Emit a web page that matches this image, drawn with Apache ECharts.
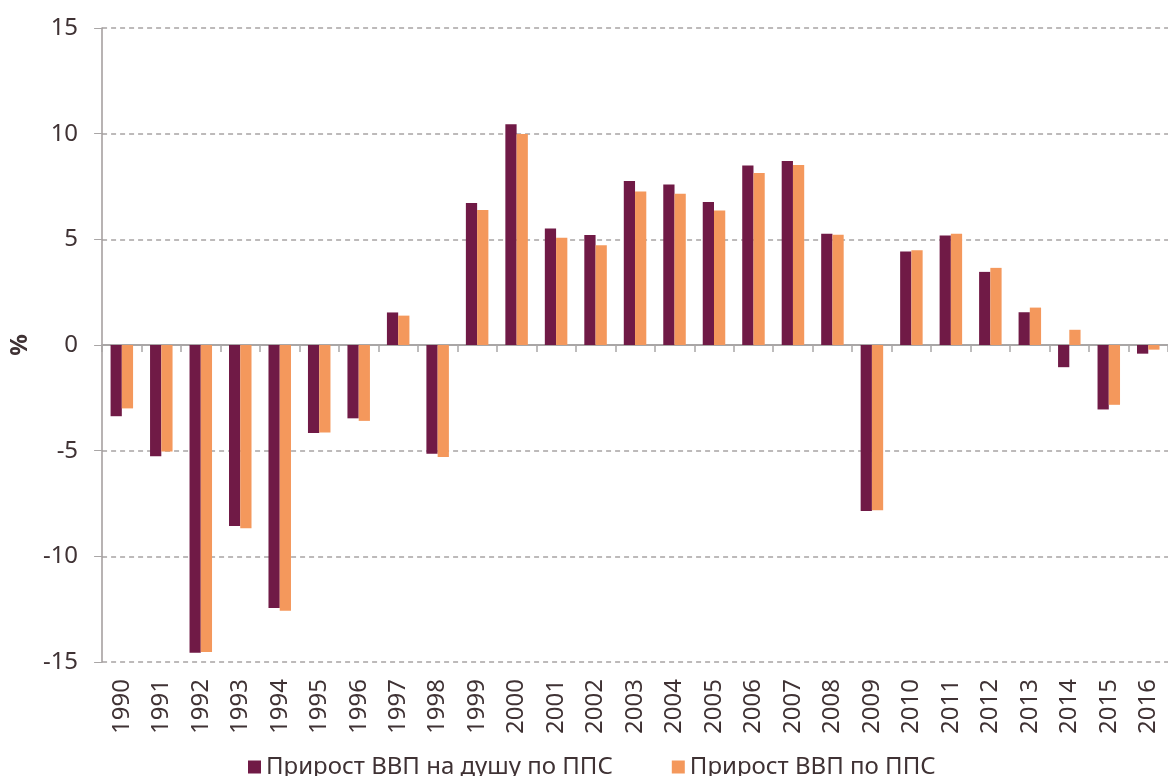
<!DOCTYPE html>
<html>
<head>
<meta charset="utf-8">
<script src="https://cdn.jsdelivr.net/npm/echarts@6/dist/echarts.min.js"></script>
<style>
html,body{margin:0;padding:0;background:#fff;}
#chart{width:1168px;height:776px;}
</style>
</head>
<body>
<div id="chart"></div>
<script>
const years = ['1990','1991','1992','1993','1994','1995','1996','1997','1998','1999','2000','2001','2002','2003','2004','2005','2006','2007','2008','2009','2010','2011','2012','2013','2014','2015','2016'];
const perCapita = [-3.37,-5.26,-14.56,-8.57,-12.45,-4.16,-3.47,1.54,-5.14,6.72,10.44,5.51,5.21,7.76,7.59,6.77,8.49,8.71,5.27,-7.85,4.43,5.18,3.46,1.55,-1.05,-3.05,-0.41];
const total = [-3.0,-5.04,-14.53,-8.67,-12.57,-4.14,-3.59,1.39,-5.3,6.39,9.99,5.08,4.72,7.26,7.16,6.36,8.14,8.52,5.22,-7.82,4.48,5.27,3.65,1.77,0.72,-2.83,-0.22];
const seriesNames = ['Прирост ВВП на душу по ППС','Прирост ВВП по ППС'];
const yTicks = {min:-15,max:15,interval:5};
const axisName = '%';

const textColor = '#3f3234';
const font = 'Noto Sans';
const chart = echarts.init(document.getElementById('chart'));
chart.setOption({
  animation:false,
  textStyle:{fontFamily:font,color:textColor},
  grid:{left:102,top:28,width:1075,height:634,containLabel:false},
  legend:{
    data:seriesNames,
    left:243, top:750,
    icon:'rect', itemWidth:13, itemHeight:13, itemGap:59,
    textStyle:{fontSize:24,color:textColor,fontFamily:font}
  },
  xAxis:[{
    type:'category', data:years, position:'bottom',
    axisLine:{show:false,onZero:false}, axisTick:{show:false},
    axisLabel:{rotate:90,fontSize:24,color:textColor,margin:17,fontFamily:font},
    splitLine:{show:false}
  },{
    type:'category', data:years, position:'bottom',
    axisLine:{show:true,onZero:true,lineStyle:{color:'#a9a6a6',width:2}},
    axisTick:{show:true,length:7,lineStyle:{color:'#a9a6a6',width:1.5}},
    axisLabel:{show:false}, splitLine:{show:false}
  }],
  yAxis:{
    type:'value', min:yTicks.min, max:yTicks.max, interval:yTicks.interval,
    name:axisName, nameLocation:'middle', nameGap:67, nameRotate:90,
    nameTextStyle:{fontSize:24,fontWeight:'bold',color:textColor,fontFamily:font},
    axisLine:{show:true,lineStyle:{color:'#a09a9a',width:1.5}},
    axisTick:{show:true,length:8,lineStyle:{color:'#a9a6a6'}},
    axisLabel:{fontSize:24,color:textColor,margin:24,fontFamily:font},
    splitLine:{show:true,lineStyle:{type:[5,4],color:'#a8a4a4',width:1.5}}
  },
  series:[{
    name:seriesNames[0], type:'bar', data:perCapita, xAxisIndex:0,
    itemStyle:{color:'#701a46'}, barGap:'0%', barCategoryGap:'43%'
  },{
    name:seriesNames[1], type:'bar', data:total, xAxisIndex:0,
    itemStyle:{color:'#f4985c'}, barGap:'0%', barCategoryGap:'43%'
  }]
});
</script>
</body>
</html>
